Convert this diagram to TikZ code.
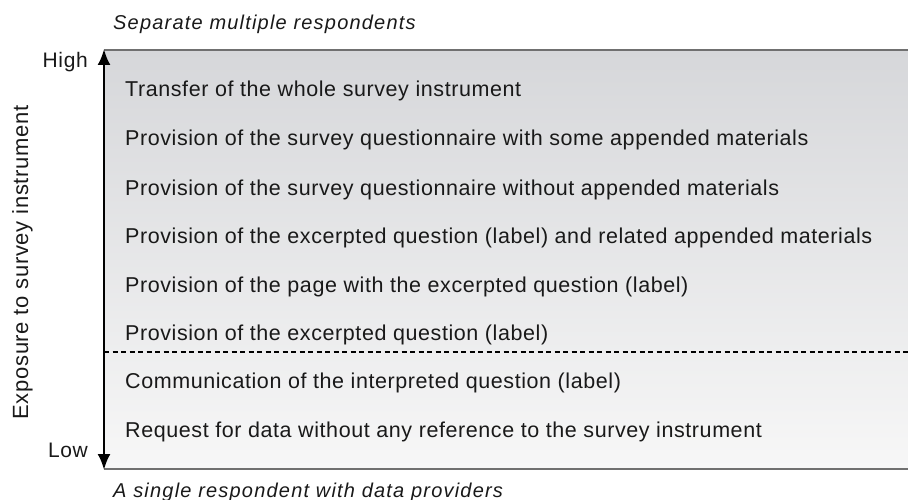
\documentclass[tikz,border=0pt]{standalone}
\usepackage{fontspec}
\setmainfont{Liberation Sans}
\newfontfamily\itemfont[LetterSpace=2.7]{Liberation Sans}
\newfontfamily\sidefont[LetterSpace=3.0]{Liberation Sans}
\newfontfamily\notefont[LetterSpace=6.0]{Liberation Sans}
\usetikzlibrary{arrows.meta, positioning}

\definecolor{panetop}{RGB}{214,215,218}
\definecolor{panebot}{RGB}{247,247,247}
\definecolor{rule}{RGB}{112,112,112}

\tikzset{
	item/.style={anchor=base west, inner sep=0pt, text=black!90, font=\itemfont\fontsize{21.5}{26}\selectfont},
	side/.style={inner sep=0pt, text=black!90, font=\sidefont\fontsize{21}{25}\selectfont},
	note/.style={anchor=base west, inner sep=0pt, text=black!90, font=\notefont\itshape\fontsize{20}{24}\selectfont},
}

\begin{document}
\begin{tikzpicture}[x=1pt, y=-1pt]
		\useasboundingbox (0,0) rectangle (908,500);
		% shaded pane with grey rules top and bottom
		\fill[shading=axis, top color=panetop, bottom color=panebot] (104,50) rectangle (908,469);
		\draw[rule, line width=2pt] (104,50) -- (908,50);
		\draw[rule, line width=2pt] (104,469) -- (908,469);
		\draw[dashed, line width=1.4pt, dash pattern=on 5pt off 3.5pt] (104,352) -- (908,352);
		% exposure axis
		\coordinate (high) at (104,49);
		\coordinate (low) at (104,470);
		\draw[{Latex[length=16pt,width=13pt]}-{Latex[length=16pt,width=13pt]}, line width=2.6pt] (low) -- (high);
		\node[side, anchor=base east] (hightext) at (88,68) {High};
		\node[side, anchor=base east] (lowtext) at (88,457) {Low};
		\node[side, rotate=90, anchor=base, font=\sidefont\fontsize{22}{26}\selectfont] (axis) at (28,262.5) {Exposure to survey instrument};
		% levels of exposure
		\node[item] (l1) at (125,97) {Transfer of the whole survey instrument};
		\node[item] (l2) at (125,146) {Provision of the survey questionnaire with some appended materials};
		\node[item] (l3) at (125,195) {Provision of the survey questionnaire without appended materials};
		\node[item] (l4) at (125,243) {Provision of the excerpted question (label) and related appended materials};
		\node[item] (l5) at (125,292) {Provision of the page with the excerpted question (label)};
		\node[item] (l6) at (125,340) {Provision of the excerpted question (label)};
		\node[item] (l7) at (125,388) {Communication of the interpreted question (label)};
		\node[item] (l8) at (125,437) {Request for data without any reference to the survey instrument};
		% respondent situations at both ends
		\node[note] (multi) at (113,30) {Separate multiple respondents};
		\node[note] (single) at (113,497) {A single respondent with data providers};
\end{tikzpicture}
\end{document}
